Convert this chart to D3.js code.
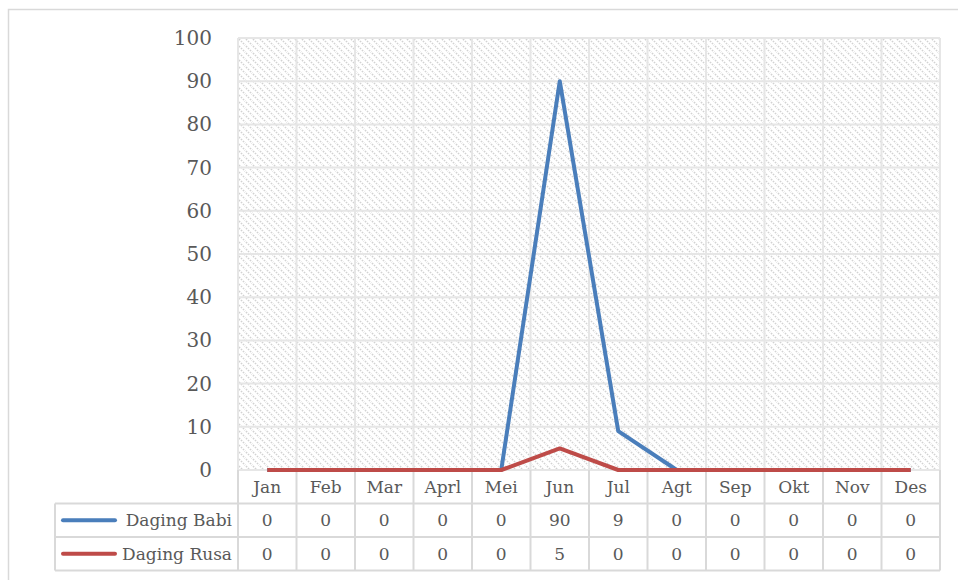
<!DOCTYPE html>
<html>
<head>
<meta charset="utf-8">
<title>Daging</title>
<script src="https://cdn.jsdelivr.net/npm/d3@7"></script>
<style>
  body { margin: 0; background: #fff; }
  text { font-family: "DejaVu Serif", serif; fill: #595959; }
</style>
</head>
<body>
<script>

var months = ["Jan","Feb","Mar","Aprl","Mei","Jun","Jul","Agt","Sep","Okt","Nov","Des"];
var seriesNames = ["Daging Babi", "Daging Rusa"];
var babi = [0,0,0,0,0,90,9,0,0,0,0,0];
var rusa = [0,0,0,0,0,5,0,0,0,0,0,0];
var colors = ["#4a7ebb", "#be4b48"];
var yTicks = [0,10,20,30,40,50,60,70,80,90,100];

var width = 958, height = 580;
var margin = {top: 38, left: 238, right: 18, bottom: 110};
var plotW = width - margin.left - margin.right,
    plotH = height - margin.top - margin.bottom;
var rowH = 33.5;

var svg = d3.select("body").append("svg")
    .attr("width", width)
    .attr("height", height);

// outer chart border (cropped on right / bottom)
svg.append("rect")
    .attr("x", 8.5).attr("y", 9.5)
    .attr("width", 980).attr("height", 600)
    .attr("fill", "none")
    .attr("stroke", "#d9d9d9")
    .attr("stroke-width", 1.5);

var defs = svg.append("defs");
var pat = defs.append("pattern")
    .attr("id", "hatch")
    .attr("patternUnits", "userSpaceOnUse")
    .attr("width", 7).attr("height", 7);
pat.append("rect").attr("width", 7).attr("height", 7).attr("fill", "#fff");
pat.append("path")
    .attr("d", "M-1,-1 L8,8 M-1,6 L1,8 M6,-1 L8,1")
    .attr("stroke", "#d2d2d2")
    .attr("stroke-width", 1.5)
    .attr("stroke-dasharray", "1.6,1.2");

var x = d3.scaleBand().domain(months).range([0, plotW]);
var y = d3.scaleLinear().domain([0, 100]).range([plotH, 0]);

var g = svg.append("g")
    .attr("transform", "translate(" + margin.left + "," + margin.top + ")");

g.append("rect")
    .attr("width", plotW).attr("height", plotH)
    .attr("fill", "url(#hatch)");

// gridlines
g.selectAll(".hgrid").data(yTicks).enter().append("line")
    .attr("x1", 0).attr("x2", plotW)
    .attr("y1", function(d){ return y(d); })
    .attr("y2", function(d){ return y(d); })
    .attr("stroke", "#e6e6e6").attr("stroke-width", 2);

var bounds = months.map(function(m){ return x(m); }).concat([plotW]);
g.selectAll(".vgrid").data(bounds).enter().append("line")
    .attr("x1", function(d){ return d; }).attr("x2", function(d){ return d; })
    .attr("y1", 0).attr("y2", plotH)
    .attr("stroke", "#e6e6e6").attr("stroke-width", 2);

// y axis labels
g.selectAll(".ylab").data(yTicks).enter().append("text")
    .attr("x", -26)
    .attr("y", function(d){ return y(d); })
    .attr("dy", "0.35em")
    .attr("text-anchor", "end")
    .attr("font-size", 20)
    .text(function(d){ return d; });

// table
var tg = g.append("g").attr("transform", "translate(0," + plotH + ")");
var tableLeft = 55 - margin.left;
var gridC = "#d9d9d9";

tg.selectAll(".hcol").data(bounds).enter().append("line")
    .attr("x1", function(d){ return d; }).attr("x2", function(d){ return d; })
    .attr("y1", 0).attr("y2", rowH * 3)
    .attr("stroke", gridC).attr("stroke-width", 2);
tg.append("line").attr("x1", tableLeft).attr("x2", tableLeft)
    .attr("y1", rowH).attr("y2", rowH * 3)
    .attr("stroke", gridC).attr("stroke-width", 2);
[1, 2, 3].forEach(function(r){
  tg.append("line")
    .attr("x1", tableLeft).attr("x2", plotW)
    .attr("y1", r * rowH).attr("y2", r * rowH)
    .attr("stroke", gridC).attr("stroke-width", 2);
});

tg.selectAll(".mlab").data(months).enter().append("text")
    .attr("x", function(d){ return x(d) + x.bandwidth() / 2; })
    .attr("y", rowH / 2)
    .attr("dy", "0.35em")
    .attr("text-anchor", "middle")
    .attr("font-size", 17)
    .text(function(d){ return d; });

[babi, rusa].forEach(function(vals, i){
  var ry = rowH * (i + 1.5);
  tg.append("line")
    .attr("x1", tableLeft + 8).attr("x2", tableLeft + 60)
    .attr("y1", ry).attr("y2", ry)
    .attr("stroke", colors[i]).attr("stroke-width", 4)
    .attr("stroke-linecap", "round");
  tg.append("text")
    .attr("x", -6).attr("y", ry).attr("dy", "0.35em")
    .attr("text-anchor", "end")
    .attr("font-size", 17)
    .text(seriesNames[i]);
  tg.selectAll(".v" + i).data(vals).enter().append("text")
    .attr("x", function(d, j){ return x(months[j]) + x.bandwidth() / 2; })
    .attr("y", ry).attr("dy", "0.35em")
    .attr("text-anchor", "middle")
    .attr("font-size", 17)
    .text(function(d){ return d; });
});

// lines
var line = d3.line()
    .x(function(d, i){ return x(months[i]) + x.bandwidth() / 2; })
    .y(function(d){ return y(d); });

[babi, rusa].forEach(function(vals, i){
  g.append("path")
    .datum(vals)
    .attr("d", line)
    .attr("fill", "none")
    .attr("stroke", colors[i])
    .attr("stroke-width", 4)
    .attr("stroke-linejoin", "round");
});

</script>
</body>
</html>
